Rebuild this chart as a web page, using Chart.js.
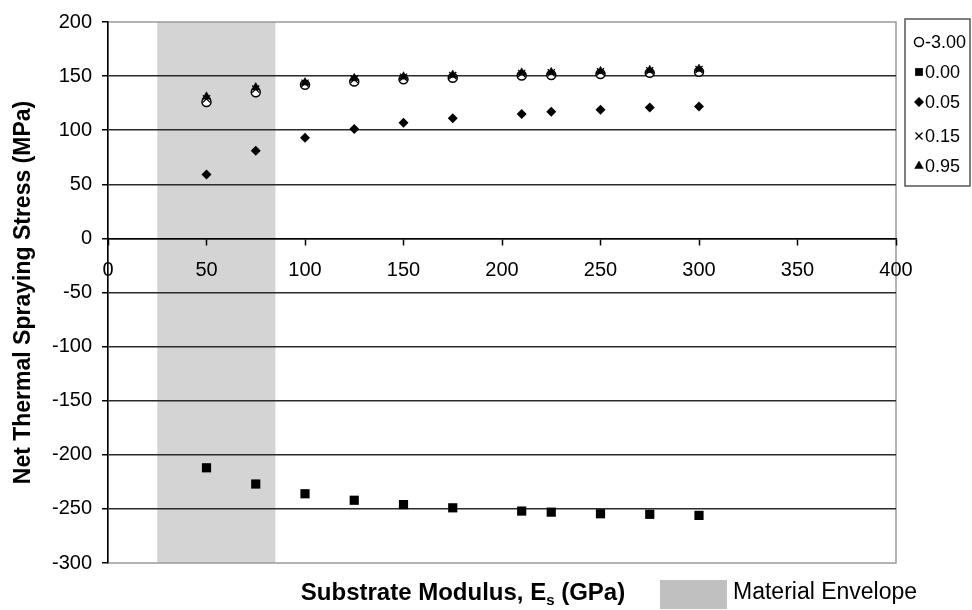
<!DOCTYPE html>
<html>
<head>
<meta charset="utf-8">
<script src="https://cdn.jsdelivr.net/npm/chart.js@4.4.1/dist/chart.umd.min.js"></script>
<style>
  html, body { margin: 0; padding: 0; background: #fff; }
  #wrap { width: 972px; height: 610px; }
</style>
</head>
<body>
<div id="wrap"><canvas id="chart" width="972" height="610"></canvas></div>
<script>
// Substrate modulus (GPa) for every series
const modulusGPa = [50, 75, 100, 125, 150, 175, 210, 225, 250, 275, 300];

// Net thermal spraying stress (MPa), one array per series
const seriesLabels = ['-3.00', '0.00', '0.05', '0.15', '0.95'];
const stressMinus300 = [126, 135, 142, 145, 147, 148.5, 150.5, 151, 152, 153, 154];
const stress000 = [-212, -227, -236, -242, -246, -249, -252, -253, -254.5, -255, -256];
const stress005 = [59, 81, 93, 101, 107, 111, 115, 117, 119, 121, 122];
const stress015 = [129, 138, 143.5, 147, 149, 150.5, 152.5, 153, 154, 155, 156];
const stress095 = [131, 139.5, 144, 148, 149.5, 151, 153, 153.5, 154.5, 155.5, 156.5];

// axis ticks
const xTickValues = [0, 50, 100, 150, 200, 250, 300, 350, 400];
const yTickValues = [200, 150, 100, 50, 0, -50, -100, -150, -200, -250, -300];

// shaded "Material Envelope" band (GPa)
const envelopeRange = [25, 85];

const FONT = "'Liberation Sans', Arial, sans-serif";

function pts(ys) {
  return modulusGPa.map((x, i) => ({ x: x, y: ys[i] }));
}

const styles = [
  { pointStyle: 'circle',    radius: 4.5, bg: '#ffffff', border: '#000000', bw: 1.5 },
  { pointStyle: 'rect',      radius: 6.5, bg: '#000000', border: '#000000', bw: 0 },
  { pointStyle: 'rectRot',   radius: 5,   bg: '#000000', border: '#000000', bw: 0 },
  { pointStyle: 'crossRot',  radius: 5,   bg: '#000000', border: '#000000', bw: 1.3 },
  { pointStyle: 'triangle',  radius: 5,   bg: '#000000', border: '#000000', bw: 0.5 },
];

const seriesData = [stressMinus300, stress000, stress005, stress015, stress095];

const datasets = seriesData.map((ys, i) => ({
  label: seriesLabels[i],
  data: pts(ys),
  showLine: false,
  pointStyle: styles[i].pointStyle,
  pointRadius: styles[i].radius,
  pointBackgroundColor: styles[i].bg,
  pointBorderColor: styles[i].border,
  pointBorderWidth: styles[i].bw,
  order: seriesLabels.length - i,   // later series drawn on top, as in the original
}));

// background band, plot frame, series key, axis title and envelope key
const decorPlugin = {
  id: 'decor',
  beforeDraw(chart) {
    const { ctx, chartArea: a, scales: { x } } = chart;
    ctx.save();
    ctx.fillStyle = '#ffffff';
    ctx.fillRect(0, 0, chart.width, chart.height);
    const x0 = x.getPixelForValue(envelopeRange[0]);
    const x1 = x.getPixelForValue(envelopeRange[1]);
    ctx.fillStyle = '#d4d4d4';
    ctx.fillRect(x0, a.top, x1 - x0, a.bottom - a.top);
    ctx.strokeStyle = '#9a9a9a';
    ctx.lineWidth = 1.5;
    ctx.strokeRect(a.left, a.top, a.right - a.left, a.bottom - a.top);
    ctx.restore();
  },
  afterDraw(chart) {
    const { ctx } = chart;
    ctx.save();

    // series key
    ctx.strokeStyle = '#555';
    ctx.lineWidth = 1.5;
    ctx.strokeRect(905, 19, 65, 167);
    const rows = [42, 72, 102, 136, 166];
    ctx.font = '18px ' + FONT;
    ctx.textBaseline = 'middle';
    ctx.textAlign = 'left';
    chart.data.datasets.forEach((ds, i) => {
      const s = styles[i];
      ctx.fillStyle = s.bg;
      ctx.strokeStyle = s.border;
      ctx.lineWidth = s.bw;
      Chart.helpers.drawPoint(ctx, {
        pointStyle: s.pointStyle,
        radius: s.pointStyle === 'rect' ? 5.5 : s.radius,
        borderWidth: s.bw,
        rotation: 0,
      }, 919, rows[i]);
      ctx.fillStyle = '#000';
      ctx.fillText(ds.label, 925, rows[i] + 1);
    });

    // x axis title with subscript
    const yT = 593;
    const big = 'bold 24px ' + FONT;
    const small = 'bold 15px ' + FONT;
    const p1 = 'Substrate Modulus, E', p2 = 's', p3 = ' (GPa)';
    ctx.font = big;
    const w1 = ctx.measureText(p1).width, w3 = ctx.measureText(p3).width;
    ctx.font = small;
    const w2 = ctx.measureText(p2).width;
    let xs = 463 - (w1 + w2 + w3) / 2;
    ctx.fillStyle = '#000';
    ctx.textBaseline = 'middle';
    ctx.font = big;
    ctx.fillText(p1, xs, yT);
    ctx.font = small;
    ctx.fillText(p2, xs + w1, yT + 8);
    ctx.font = big;
    ctx.fillText(p3, xs + w1 + w2, yT);

    // material envelope key
    ctx.fillStyle = '#c0c0c0';
    ctx.fillRect(660, 580, 67, 29);
    ctx.fillStyle = '#000';
    ctx.font = '23px ' + FONT;
    ctx.fillText('Material Envelope', 733, yT);

    ctx.restore();
  }
};

new Chart(document.getElementById('chart'), {
  type: 'scatter',
  data: { datasets: datasets },
  plugins: [decorPlugin],
  options: {
    responsive: false,
    devicePixelRatio: 1,
    animation: false,
    layout: { padding: { top: 20, right: 76, bottom: 47, left: 0 } },
    plugins: {
      legend: { display: false },
      tooltip: { enabled: false },
    },
    scales: {
      x: {
        type: 'linear',
        position: { y: 0 },
        min: 0,
        max: 400,
        afterBuildTicks: s => { s.ticks = xTickValues.map(v => ({ value: v })); },
        grid: {
          drawOnChartArea: false,
          color: 'rgba(0,0,0,0)',
          tickColor: '#000',
          tickLength: 6,
          tickWidth: 1.5,
        },
        border: { display: true, color: '#000', width: 1.5 },
        ticks: {
          color: '#000',
          font: { family: FONT, size: 20 },
          padding: 14,
          maxRotation: 0,
        },
      },
      y: {
        type: 'linear',
        position: 'left',
        min: -300,
        max: 200,
        afterBuildTicks: s => { s.ticks = yTickValues.map(v => ({ value: v })); },
        afterFit: s => { s.width = 108; },
        grid: {
          color: c => (c.tick && (c.tick.value === 200 || c.tick.value === -300)) ? 'rgba(0,0,0,0)' : '#2a2a2a',
          lineWidth: 1.5,
          tickColor: '#000',
          tickLength: 6,
          tickWidth: 1.5,
        },
        border: { display: true, color: '#000', width: 1.5 },
        ticks: {
          color: '#000',
          font: { family: FONT, size: 20 },
          padding: 10,
        },
        title: {
          display: true,
          text: 'Net Thermal Spraying Stress (MPa)',
          color: '#000',
          font: { family: FONT, size: 23, weight: 'bold' },
          padding: { top: 10, bottom: 0 },
        },
      },
    },
  },
});
</script>
</body>
</html>
